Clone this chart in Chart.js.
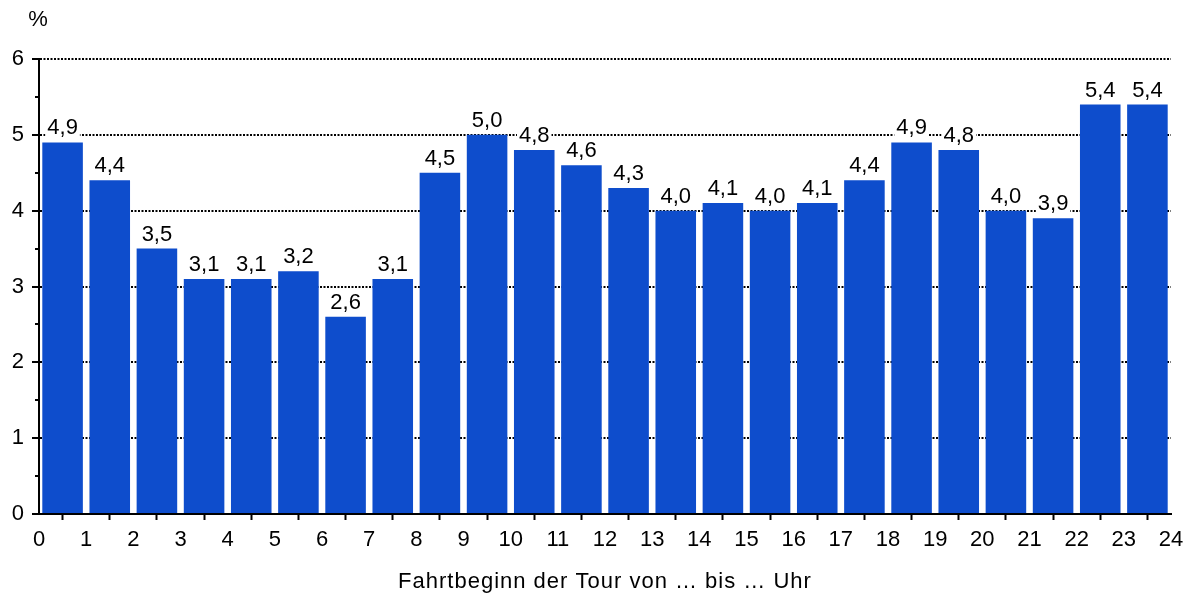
<!DOCTYPE html>
<html>
<head>
<meta charset="utf-8">
<script src="https://cdn.jsdelivr.net/npm/chart.js@4/dist/chart.umd.min.js"></script>
<style>
  html, body { margin: 0; padding: 0; background: #fff; }
  #wrap { width: 1195px; height: 596px; }
</style>
</head>
<body>
<div id="wrap"><canvas id="barChart" width="1195" height="596"></canvas></div>
<script>
// Anteil der Touren nach Fahrtbeginn (Stunde), in %
var hours = [0, 1, 2, 3, 4, 5, 6, 7, 8, 9, 10, 11, 12, 13, 14, 15, 16, 17, 18, 19, 20, 21, 22, 23];
var shares = [4.9, 4.4, 3.5, 3.1, 3.1, 3.2, 2.6, 3.1, 4.5, 5.0, 4.8, 4.6,
              4.3, 4.0, 4.1, 4.0, 4.1, 4.4, 4.9, 4.8, 4.0, 3.9, 5.4, 5.4];
var yTicks = [0, 1, 2, 3, 4, 5, 6];
var yMinorTicks = [0.5, 1.5, 2.5, 3.5, 4.5, 5.5];
var xTitle = 'Fahrtbeginn der Tour von … bis … Uhr';
var yUnit = '%';

var FONT = 'Arial, "Liberation Sans", sans-serif';

// bars sit between two hour ticks
var points = hours.map(function (h, i) { return { x: h + 0.5, y: shares[i] }; });

// value labels above bars (white box behind), minor y ticks, unit + axis title
var extras = {
  id: 'extras',
  afterDatasetsDraw: function (chart) {
    var ctx = chart.ctx;
    var meta = chart.getDatasetMeta(0);
    ctx.save();
    ctx.font = '22px ' + FONT;
    ctx.textAlign = 'center';
    ctx.textBaseline = 'alphabetic';
    meta.data.forEach(function (bar, i) {
      var txt = shares[i].toFixed(1).replace('.', ',');
      var w = ctx.measureText(txt).width;
      ctx.fillStyle = '#fff';
      ctx.fillRect(bar.x - w / 2 - 2, bar.y - 26, w + 4, 24);
      ctx.fillStyle = '#000';
      ctx.fillText(txt, bar.x, bar.y - 8);
    });
    ctx.restore();
  },
  afterDraw: function (chart) {
    var ctx = chart.ctx;
    var area = chart.chartArea;
    var y = chart.scales.y;
    ctx.save();
    ctx.strokeStyle = '#000';
    ctx.lineWidth = 2;
    yMinorTicks.forEach(function (v) {
      var py = Math.round(y.getPixelForValue(v));
      ctx.beginPath();
      ctx.moveTo(area.left - 4, py);
      ctx.lineTo(area.left, py);
      ctx.stroke();
    });
    ctx.fillStyle = '#000';
    ctx.font = '22px ' + FONT;
    ctx.textAlign = 'center';
    ctx.textBaseline = 'middle';
    ctx.fillText(yUnit, 38, 20);
    ctx.letterSpacing = '1px';
    ctx.fillText(xTitle, (area.left + area.right) / 2, area.bottom + 68);
    ctx.restore();
  }
};

var chart = new Chart(document.getElementById('barChart'), {
  type: 'bar',
  data: {
    datasets: [{
      data: points,
      backgroundColor: '#0e4dcc',
      borderWidth: 0,
      barPercentage: 0.86,
      categoryPercentage: 1
    }]
  },
  options: {
    responsive: false,
    animation: false,
    layout: { padding: { top: 59, right: 24, bottom: 0, left: 0 } },
    plugins: {
      legend: { display: false },
      tooltip: { enabled: false }
    },
    scales: {
      x: {
        type: 'linear',
        offset: false,
        min: 0,
        max: 24,
        afterFit: function (s) { s.height = 82; },
        ticks: {
          stepSize: 1,
          autoSkip: false,
          maxRotation: 0,
          padding: 7,
          color: '#000',
          font: { family: FONT, size: 22 }
        },
        grid: {
          drawOnChartArea: false,
          drawTicks: true,
          tickLength: 6,
          tickColor: '#000',
          tickWidth: 2
        },
        border: { display: true, color: '#000', width: 2 }
      },
      y: {
        min: 0,
        max: 6,
        afterFit: function (s) { s.width = 39; },
        afterBuildTicks: function (s) {
          s.ticks = yTicks.map(function (v) { return { value: v }; });
        },
        ticks: {
          padding: 8,
          color: '#000',
          font: { family: FONT, size: 22 }
        },
        grid: {
          color: '#000',
          lineWidth: 2,
          tickLength: 7,
          tickColor: '#000',
          tickWidth: 2,
          tickBorderDash: []
        },
        border: { display: true, color: '#000', width: 2, dash: [2, 1.5] }
      }
    }
  },
  plugins: [extras]
});
</script>
</body>
</html>
